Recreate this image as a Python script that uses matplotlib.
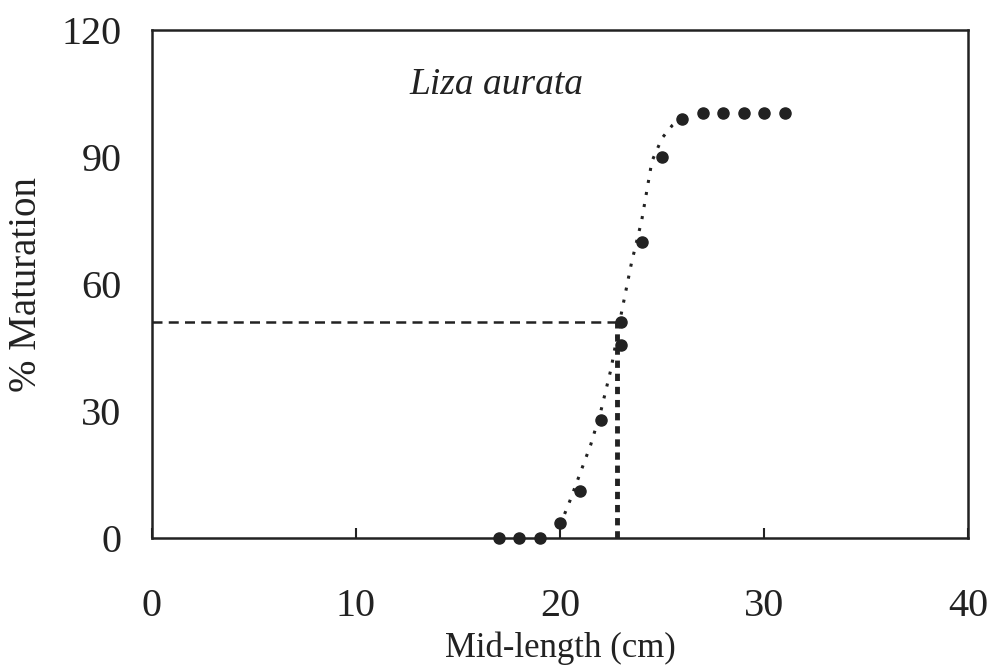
#Maturity ogive - Liza aurata
import matplotlib
matplotlib.use('Agg')
import matplotlib.pyplot as plt

#observed % mature per length class
mid_length = [17, 18, 19, 20, 21, 22, 23, 23, 24, 25, 26, 27, 28, 29, 30, 31]
pct_mature = [0, 0, 0, 3.5, 11, 28, 45.5, 51, 70, 90, 99, 100.5, 100.5, 100.5, 100.5, 100.5]

#fitted curve
curve_x = [20.0, 20.5, 21.0, 21.5, 22.0, 22.5, 23.0, 23.5, 24.0, 24.5, 25.0, 25.5, 26.0, 26.3]
curve_y = [3, 9, 15.5, 22, 30, 40, 53, 65, 75, 89, 94.5, 97.5, 99.5, 100]

#length at 50% maturity
l50_x = 22.8
l50_y = 51

x_ticks = [0, 10, 20, 30, 40]
y_ticks = [0, 30, 60, 90, 120]

plt.rcParams['font.family'] = ['Liberation Serif', 'DejaVu Serif']

fig = plt.figure(figsize=(9.93, 6.7), dpi=100)
ax = fig.add_axes([0.153, 0.197, 0.822, 0.758])

ax.plot(curve_x, curve_y, linestyle=(0, (1, 3)), color='#222222', linewidth=2.2)
ax.plot([0, l50_x], [l50_y, l50_y], linestyle=(0, (4, 2.5)), color='#222222', linewidth=1.8)
ax.plot([l50_x, l50_x], [0, l50_y], linestyle=(0, (1.5, 1.2)), color='#222222', linewidth=3.5)
ax.plot(mid_length, pct_mature, 'o', color='#222222', markersize=8, clip_on=False, zorder=3)

ax.text(16.9, 107, 'Liza aurata', fontsize=27, style='italic', ha='center', va='center', color='#222222')

ax.set_xlim(0, 40)
ax.set_ylim(0, 120)
ax.set_xticks(x_ticks)
ax.set_yticks(y_ticks)
ax.tick_params(axis='x', direction='in', length=7, width=1.5, pad=36, labelsize=29, colors='#222222')
ax.tick_params(axis='y', length=0, pad=22, labelsize=29, colors='#222222')
for s in ax.spines.values():
    s.set_linewidth(1.8)
    s.set_color('#222222')

ax.set_xlabel('Mid-length (cm)', fontsize=25, labelpad=5, color='#222222')
ax.set_ylabel('% Maturation', fontsize=28, labelpad=12, color='#222222')

plt.savefig('out.png', dpi=100)
plt.close()
